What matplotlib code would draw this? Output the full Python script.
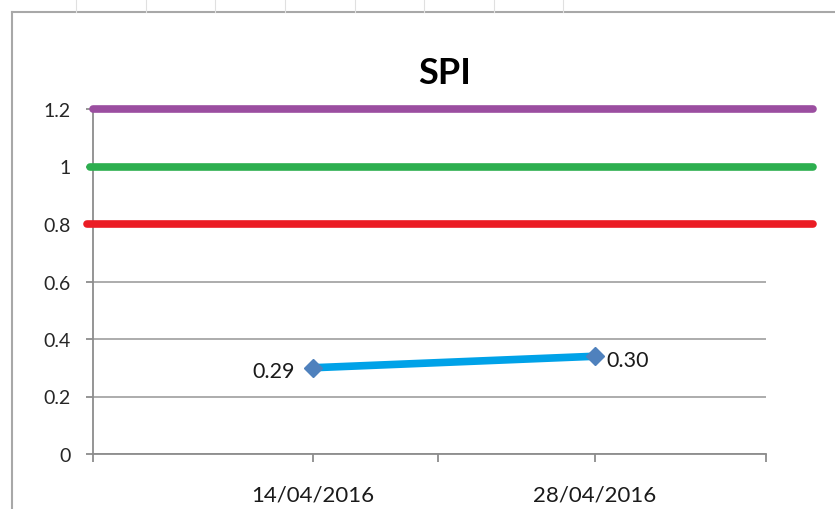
import matplotlib
matplotlib.use('Agg')
import matplotlib.pyplot as plt
from matplotlib.lines import Line2D

# data
dates = ['14/04/2016', '28/04/2016']
spi = [0.30, 0.34]
spi_labels = ['0.29', '0.30']
limits = [1.2, 1.0, 0.8]
limit_colors = ['#9B4EA0', '#2DAF4F', '#EB1C24']
yticks = [0, 0.2, 0.4, 0.6, 0.8, 1.0, 1.2]
ytick_labels = ['0', '0.2', '0.4', '0.6', '0.8', '1', '1.2']

plt.rcParams['font.family'] = ['Lato', 'DejaVu Sans']

fig = plt.figure(figsize=(8.35, 5.1), dpi=100)
fig.patch.set_facecolor('white')

# spreadsheet behind the chart (border + a few cell lines)
fig.add_artist(Line2D([12/835, 12/835], [0, 1 - 13/510], color='#a8a8a8', lw=1.5))
fig.add_artist(Line2D([12/835, 1], [1 - 13/510, 1 - 13/510], color='#a8a8a8', lw=1.5))
for cx in [76, 146, 215, 285, 355, 424, 494, 563]:
    fig.add_artist(Line2D([cx/835, cx/835], [1 - 13/510, 1], color='#e0e0e0', lw=0.8))

ax = fig.add_axes([93/835, 1 - 455/510, 673/835, 345/510])
x = list(range(len(dates)))

ax.set_xlim(-0.78, 1.606)
ax.set_ylim(0, 1.2)

# gridlines
for v in yticks:
    ax.axhline(v, color='#a6a6a6', lw=1.3, zorder=1)

# threshold lines, running past the plot area like in the original
starts = [0.0, -0.004, -0.009]
for v, c, s in zip(limits, limit_colors, starts):
    ax.axhline(v, xmin=s, xmax=1.07, color=c, lw=5.5, solid_capstyle='round',
               clip_on=False, zorder=3)

ax.plot(x, spi, color='#00A2E8', lw=5.5, zorder=4)
ax.plot(x, spi, ls='none', marker='D', ms=9, color='#4F81BD', zorder=5)

ax.annotate(spi_labels[0], (x[0], spi[0]), xytext=(-13, -2), textcoords='offset points',
            ha='right', va='center', fontsize=15.5, color='#1a1a1a')
ax.annotate(spi_labels[1], (x[1], spi[1]), xytext=(8, -3), textcoords='offset points',
            ha='left', va='center', fontsize=15.5, color='#1a1a1a')

for s in ['top', 'right']:
    ax.spines[s].set_visible(False)
for s in ['left', 'bottom']:
    ax.spines[s].set_color('#8c8c8c')
    ax.spines[s].set_linewidth(1.3)

ax.set_yticks(yticks)
ax.set_yticklabels(ytick_labels, fontsize=14, color='#262626')
ax.tick_params(axis='y', length=5, width=1.3, color='#8c8c8c', pad=11)

ax.set_xticks([-0.78, 0, 0.443, 1, 1.606])
ax.set_xticklabels(['', dates[0], '', dates[1], ''], fontsize=16, color='#1a1a1a')
ax.tick_params(axis='x', length=6, width=1.3, color='#8c8c8c', pad=16)

fig.text(445/835, 1 - 74/510, 'SPI', ha='center', va='center', fontsize=26,
         fontweight='bold', color='black')

fig.savefig('out.png', dpi=100)
